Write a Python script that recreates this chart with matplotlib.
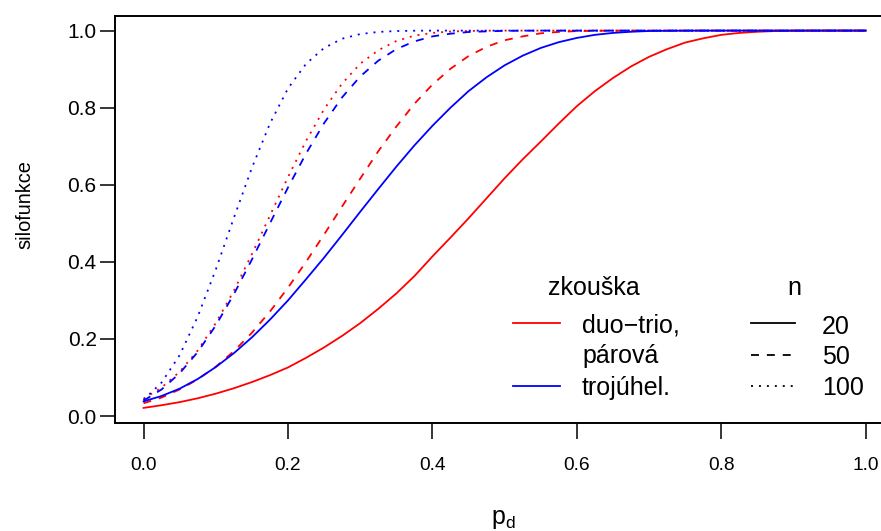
import matplotlib
matplotlib.use("Agg")
import matplotlib.pyplot as plt
from matplotlib.lines import Line2D

plt.rcParams['font.family'] = ['Liberation Sans', 'DejaVu Sans']
plt.rcParams['mathtext.fontset'] = 'custom'
plt.rcParams['mathtext.rm'] = 'Liberation Sans'
plt.rcParams['mathtext.it'] = 'Liberation Sans'

# proportion of discriminators (x axis), steps of 0.025
pd_grid = [0.0, 0.025, 0.05, 0.075, 0.1, 0.125, 0.15, 0.175, 0.2, 0.225,
           0.25, 0.275, 0.3, 0.325, 0.35, 0.375, 0.4, 0.425, 0.45, 0.475,
           0.5, 0.525, 0.55, 0.575, 0.6, 0.625, 0.65, 0.675, 0.7, 0.725,
           0.75, 0.775, 0.8, 0.825, 0.85, 0.875, 0.9, 0.925, 0.95, 0.975, 1.0]

# power, duo-trio / paired test
duo_20 = [0.021, 0.028, 0.036, 0.046, 0.058, 0.072, 0.088, 0.106, 0.126, 0.151,
          0.178, 0.208, 0.241, 0.278, 0.318, 0.363, 0.414, 0.463, 0.513, 0.565,
          0.617, 0.666, 0.712, 0.759, 0.804, 0.843, 0.877, 0.907, 0.932, 0.952,
          0.969, 0.980, 0.989, 0.994, 0.997, 0.9989, 0.9997, 0.9999, 1.0, 1.0, 1.0]
duo_50 = [0.033, 0.048, 0.069, 0.095, 0.128, 0.168, 0.216, 0.271, 0.333, 0.400,
          0.471, 0.544, 0.616, 0.687, 0.751, 0.810, 0.860, 0.901, 0.934, 0.958,
          0.975, 0.985, 0.993, 0.9966, 0.9987, 0.9995, 0.9998] + [1.0] * 14
duo_100 = [0.045, 0.074, 0.115, 0.170, 0.241, 0.325, 0.420, 0.520, 0.620, 0.714,
           0.796, 0.863, 0.914, 0.949, 0.973, 0.987, 0.994, 0.9976, 0.9991, 0.9997,
           1.0] + [1.0] * 20

# power, triangle test
tri_20 = [0.038, 0.052, 0.071, 0.096, 0.127, 0.163, 0.204, 0.250, 0.300, 0.355,
          0.411, 0.470, 0.530, 0.589, 0.647, 0.702, 0.753, 0.800, 0.843, 0.879,
          0.910, 0.935, 0.955, 0.970, 0.981, 0.989, 0.994, 0.997, 0.999, 0.9995,
          0.9998] + [1.0] * 10
tri_50 = [0.040, 0.069, 0.111, 0.166, 0.235, 0.316, 0.406, 0.500, 0.593, 0.681,
          0.760, 0.827, 0.881, 0.922, 0.952, 0.972, 0.985, 0.992, 0.9964, 0.998,
          0.9994, 0.9998] + [1.0] * 19
tri_100 = [0.042, 0.087, 0.158, 0.258, 0.380, 0.514, 0.644, 0.759, 0.850, 0.914,
           0.955, 0.979, 0.991, 0.9966, 0.9989, 0.9997, 1.0, 1.0, 1.0, 1.0,
           1.0] + [1.0] * 20

tests = ["duo\u2212trio,\npárová", "trojúhel."]
sizes = [20, 50, 100]
tick_vals = [0.0, 0.2, 0.4, 0.6, 0.8, 1.0]
tick_labels = ["0.0", "0.2", "0.4", "0.6", "0.8", "1.0"]

W, H = 881, 531
LW = 1.3
colors = {"duo": "#FF0000", "tri": "#0000FF"}
styles = {20: dict(linestyle="-"),
          50: dict(dashes=(4.4, 4.4)),
          100: dict(dashes=(1.1, 3.3))}

def fx(px):
    return px / W

def fy(py):
    return 1 - py / H

fig = plt.figure(figsize=(W / 100, H / 100), dpi=100)
ax = fig.add_axes([fx(114.7), fy(423.4), (894.6 - 114.7) / W, (423.4 - 15.5) / H])

series = {("duo", 20): duo_20, ("duo", 50): duo_50, ("duo", 100): duo_100,
          ("tri", 20): tri_20, ("tri", 50): tri_50, ("tri", 100): tri_100}
for (t, n), vals in series.items():
    ax.plot(pd_grid, vals, color=colors[t], lw=LW, dash_capstyle="butt",
            **styles[n])

ax.set_xlim(-0.04, 1.04)
ax.set_ylim(-0.0192, 1.0392)
ax.set_xticks(tick_vals)
ax.set_xticklabels(tick_labels, fontsize=13.8)
ax.set_yticks(tick_vals)
ax.set_yticklabels(tick_labels, fontsize=15)
ax.tick_params(axis="x", length=11.5, width=1.1, pad=12.5)
ax.tick_params(axis="y", length=11, width=1.1, pad=2)
for s in ax.spines.values():
    s.set_linewidth(1.4)

fig.text(fx(25), fy(205), "silofunkce", rotation=90, fontsize=14.4,
         ha="center", va="center")
fig.text(fx(503), fy(524), r"$\mathregular{p_d}$", fontsize=18,
         ha="center", va="baseline")

# legend 1: test type
LEG_FS = 18
fig.text(fx(593.4), fy(295), "zkouška", fontsize=LEG_FS, ha="center", va="baseline")
fig.add_artist(Line2D([fx(512.7), fx(560)], [fy(322.5)] * 2, transform=fig.transFigure,
                      color=colors["duo"], lw=LW))
fig.add_artist(Line2D([fx(512.7), fx(560)], [fy(386)] * 2, transform=fig.transFigure,
                      color=colors["tri"], lw=LW))
for label, base in zip(tests[0].split("\n") + [tests[1]], [332, 363.5, 395]):
    fig.text(fx(582), fy(base), label, fontsize=LEG_FS, ha="left", va="baseline")

# legend 2: sample size
fig.text(fx(794), fy(295), "n", fontsize=LEG_FS, ha="center", va="baseline")
for n, yc, base in zip(sizes, [322.5, 354.5, 386], [334, 364.3, 395]):
    fig.add_artist(Line2D([fx(751), fx(795)], [fy(yc)] * 2, transform=fig.transFigure,
                          color="black", lw=LW, dash_capstyle="butt", **styles[n]))
    fig.text(fx(821.7), fy(base), str(n), fontsize=LEG_FS, ha="left", va="baseline")

fig.savefig("out.png", dpi=100)
